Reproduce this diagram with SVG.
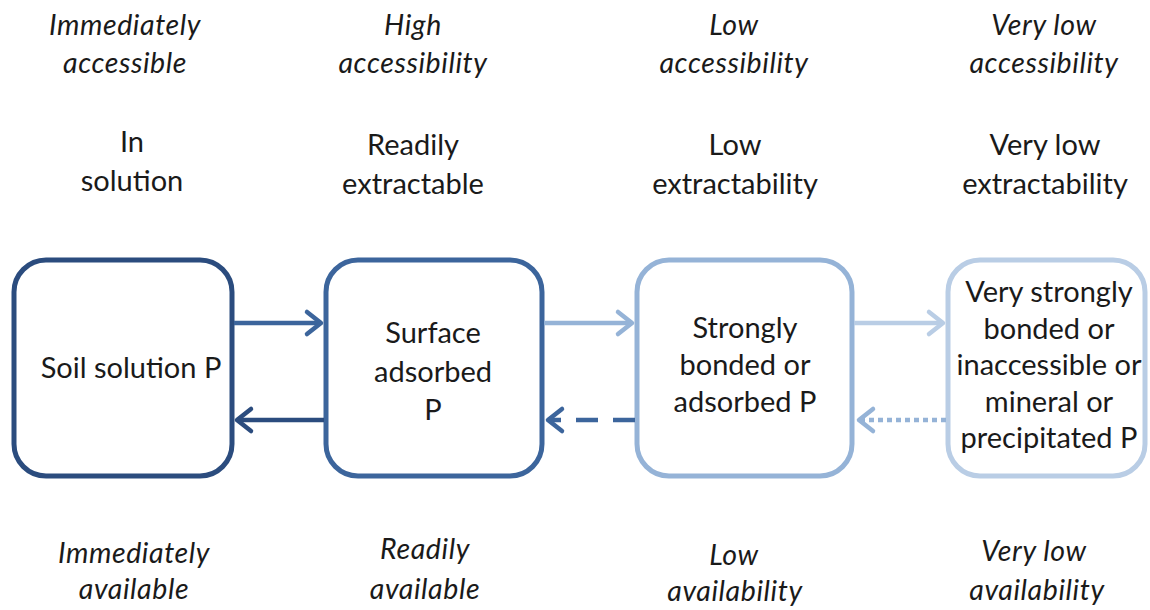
<svg xmlns="http://www.w3.org/2000/svg" width="1150" height="610" viewBox="0 0 1150 610">
<defs>
<style>
text{font-family:Lato,"Open Sans","Liberation Sans",sans-serif;font-size:29px;fill:#1a1a1a;text-anchor:middle}
.it{font-style:italic;font-size:28.5px;letter-spacing:0.6px}
.box{fill:#fff;stroke-width:5}
.cn{fill:none;stroke-width:4.5;stroke-linecap:butt}
.hd{fill:none;stroke-width:4.5;stroke-linecap:round;stroke-linejoin:round}
</style>
</defs>
<rect width="1150" height="610" fill="#fff"/>
<g id="header-labels">
<text class="it" x="125" y="35">Immediately</text>
<text class="it" x="125" y="73">accessible</text>
<text class="it" x="413" y="35">High</text>
<text class="it" x="413" y="73">accessibility</text>
<text class="it" x="734" y="35">Low</text>
<text class="it" x="734" y="73">accessibility</text>
<text class="it" x="1044" y="35">Very low</text>
<text class="it" x="1044" y="73">accessibility</text>
<text x="132" y="152">In</text>
<text x="132" y="191">solution</text>
<text x="413" y="155">Readily</text>
<text x="413" y="194">extractable</text>
<text x="735" y="155">Low</text>
<text x="735" y="194">extractability</text>
<text x="1045" y="155">Very low</text>
<text x="1045" y="194">extractability</text>
</g>
<g id="node-soil-solution">
<rect class="box" x="14" y="260" width="218" height="216" rx="32" stroke="#2b4c7e"/>
<text x="131" y="378">Soil solution P</text>
</g>
<g id="node-surface-adsorbed">
<rect class="box" x="326" y="260" width="216" height="216" rx="32" stroke="#3c659c"/>
<text x="433" y="343">Surface</text>
<text x="433" y="382">adsorbed</text>
<text x="433" y="420">P</text>
</g>
<g id="node-strongly-bonded">
<rect class="box" x="637" y="260" width="215" height="216" rx="32" stroke="#95b3d7"/>
<text x="745" y="338">Strongly</text>
<text x="745" y="375">bonded or</text>
<text x="745" y="412">adsorbed P</text>
</g>
<g id="node-very-strongly-bonded">
<rect class="box" x="948" y="260" width="197" height="216" rx="32" stroke="#b9cde5"/>
<text x="1049" y="302">Very strongly</text>
<text x="1049" y="339">bonded or</text>
<text x="1049" y="375">inaccessible or</text>
<text x="1049" y="412">mineral or</text>
<text x="1049" y="448">precipitated P</text>
</g>
<g id="footer-labels">
<text class="it" x="134" y="563">Immediately</text>
<text class="it" x="134" y="599">available</text>
<text class="it" x="425" y="559">Readily</text>
<text class="it" x="425" y="599">available</text>
<text class="it" x="734" y="565">Low</text>
<text class="it" x="735" y="601">availability</text>
<text class="it" x="1034" y="561">Very low</text>
<text class="it" x="1037" y="600">availability</text>
</g>
<g id="connectors">
<line class="cn" x1="234" y1="323" x2="321" y2="323" stroke="#3c659c"/>
<polyline class="hd" points="307,312 321,323 307,334" stroke="#3c659c"/>
<line class="cn" x1="324" y1="420" x2="237" y2="420" stroke="#2b4c7e"/>
<polyline class="hd" points="251,409 237,420 251,431" stroke="#2b4c7e"/>
<line class="cn" x1="544" y1="323" x2="632" y2="323" stroke="#95b3d7"/>
<polyline class="hd" points="618,312 632,323 618,334" stroke="#95b3d7"/>
<line class="cn" x1="635" y1="420" x2="548" y2="420" stroke="#3c659c" stroke-dasharray="22,15"/>
<polyline class="hd" points="562,409 548,420 562,431" stroke="#3c659c"/>
<line class="cn" x1="854" y1="323" x2="943" y2="323" stroke="#b9cde5"/>
<polyline class="hd" points="929,312 943,323 929,334" stroke="#b9cde5"/>
<line class="cn" x1="946" y1="420" x2="859" y2="420" stroke="#95b3d7" stroke-dasharray="5,4"/>
<polyline class="hd" points="873,409 859,420 873,431" stroke="#95b3d7"/>
</g>
</svg>
